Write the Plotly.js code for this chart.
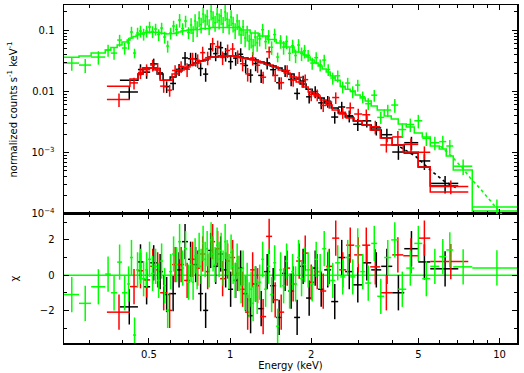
<!DOCTYPE html>
<html><head><meta charset="utf-8">
<script src="https://cdn.plot.ly/plotly-3.0.1.min.js"></script>
<style>html,body{margin:0;padding:0;background:#fff}#chart{width:524px;height:373px}</style>
</head><body><div id="chart"></div>
<script>
// ---------- data (energies in keV, counts in counts s^-1 keV^-1) ----------
const greenEdges = [0.242,0.275,0.305,0.344,0.361,0.381,0.397,0.415,0.425,0.436,0.448,0.459,0.471,0.484,0.496,0.509,0.522,0.536,0.550,0.564,0.579,0.594,0.609,0.625,0.641,0.658,0.675,0.692,0.710,
0.723,0.735,0.748,0.761,0.774,0.787,0.801,0.815,0.829,0.843,0.857,0.872,0.887,0.903,0.918,0.934,0.950,0.967,0.983,1.000,1.017,1.035,1.053,1.071,1.089,1.108,1.127,1.147,1.167,1.187,1.207,1.228,1.249,1.271,
1.304,1.337,1.372,1.408,1.444,1.482,1.520,1.559,1.600,1.641,1.684,1.728,1.772,1.818,1.865,1.914,
1.982,2.051,2.122,2.196,2.273,2.352,2.454,2.562,2.673,2.790,2.912,3.039,3.172,3.339,3.515,3.731,3.962,4.206,4.504,4.824,5.165,5.530,5.971,6.340,6.731,7.918,11.63];
const greenY = [0.0291,0.0270,0.0365,0.0475,0.0424,0.0693,0.0513,0.0619,0.0937,0.0424,0.0903,0.0973,0.0869,0.0973,0.1132,0.0955,0.1049,0.0853,0.1090,0.0776,0.0553,0.0903,0.1175,0.1030,0.1473,0.1070,0.1419,0.0920,
0.1220,0.0903,0.1419,0.1090,0.1589,0.1243,0.1847,0.1419,0.1681,0.1175,0.2030,0.1589,0.1331,0.1847,0.1457,0.1726,0.1277,0.2006,0.1530,0.1202,0.1650,0.1291,0.1011,0.1419,0.1145,0.0844,0.1141,0.0747,0.0924,0.0663,0.0710,0.0557,0.0776,0.0628,
0.0725,0.1022,0.0653,0.0806,0.0528,0.0851,0.0365,0.0667,0.0532,0.0658,0.0420,0.0561,0.0387,0.0574,0.0418,0.0462,
0.0391,0.0291,0.0357,0.0272,0.0326,0.0228,0.0166,0.0180,0.0119,0.0137,0.00993,0.0127,0.00817,0.00630,0.00868,0.00376,0.00496,0.00599,0.00238,0.00288,0.00331,0.00171,0.00145,0.00151,0.00128,0.000598,0.000129];
const greenErr = [0.0073,0.0070,0.0091,0.0105,0.0093,0.0152,0.0113,0.0136,0.0206,0.0076,0.0199,0.0214,0.0191,0.0214,0.0249,0.0210,0.0231,0.0188,0.0240,0.0171,0.0122,0.0199,0.0259,0.0227,0.0368,0.0235,0.0312,0.0202,
0.0354,0.0262,0.0412,0.0316,0.0461,0.0360,0.0536,0.0412,0.0487,0.0341,0.0589,0.0461,0.0386,0.0536,0.0423,0.0501,0.0370,0.0582,0.0444,0.0349,0.0479,0.0374,0.0293,0.0412,0.0332,0.0245,0.0331,0.0217,0.0268,0.0192,0.0206,0.0162,0.0225,0.0182,
0.0181,0.0256,0.0163,0.0202,0.0132,0.0213,0.0066,0.0167,0.0133,0.0165,0.0105,0.0140,0.0097,0.0144,0.0105,0.0116,
0.0086,0.0064,0.0079,0.0060,0.0072,0.0050,0.0037,0.0040,0.0026,0.0030,0.0022,0.0028,0.0018,0.0014,0.0019,0.00083,0.0011,0.0015,0.0006,0.00072,0.00083,0.00043,0.00036,0.00038,0.00032,0.00017,0.000041];
const greenModel = [0.0361,0.0379,0.0424,0.0475,0.0522,0.0574,0.0643,0.0693,0.0747,0.0791,0.0837,0.0869,0.0903,0.0920,0.0937,0.0937,0.0937,0.0920,0.0903,0.0886,0.0869,0.0869,0.0886,0.0903,0.0937,0.0973,0.0992,0.1011,
0.1030,0.1030,0.1030,0.1030,0.1030,0.1070,0.1070,0.1070,0.1070,0.1070,0.1111,0.1111,0.1111,0.1111,0.1111,0.1132,0.1132,0.1132,0.1132,0.1132,0.1111,0.1111,0.1111,0.1111,0.1111,0.1011,0.1011,0.1011,0.1011,0.1011,0.0903,0.0903,0.0903,0.0903,
0.0806,0.0806,0.0806,0.0707,0.0707,0.0707,0.0619,0.0619,0.0619,0.0532,0.0532,0.0532,0.0441,0.0441,0.0441,0.0394,
0.0365,0.0326,0.0291,0.0260,0.0232,0.0207,0.0178,0.0153,0.0122,0.0109,0.0102,0.00874,0.00781,0.00697,0.00577,0.00496,0.00396,0.00354,0.00293,0.00262,0.00209,0.00180,0.00128,0.00114,0.000879,0.000519,0.000111];
const greenChi = [-1.1,-1.6,-0.66,0.06,-1.0,0.74,-1.0,-0.5,1.0,-3.4,0.3,0.5,-0.2,0.3,0.9,0.1,0.5,-0.3,0.8,-0.6,-2.0,0.2,1.2,0.6,1.9,0.4,1.5,-0.4,
0.6,-0.4,1.1,0.2,1.4,0.5,1.8,0.9,1.5,0.3,2.0,1.2,0.6,1.7,0.9,1.4,0.4,1.9,1.0,0.2,1.3,0.5,-0.3,0.8,0.1,-0.6,0.4,-1.0,-0.3,-1.4,-0.8,-1.6,-0.5,-1.2,
-0.4,0.9,-0.8,0.5,-1.1,0.7,-2.9,0.3,-0.6,0.8,-0.9,0.2,-0.5,1.0,-0.2,0.6,
0.3,-0.5,0.9,0.2,1.5,0.4,-0.3,0.7,-0.1,1.0,-0.1,1.66,0.2,-0.45,1.8,-1.2,1.0,2.0,-0.8,0.4,1.8,-0.2,0.5,1.05,1.43,0.47,0.41];

const blackEdges = [0.390,0.455,0.475,0.505,0.536,0.564,0.599,0.630,0.663,0.698,0.729,0.761,0.794,0.829,0.865,0.903,0.942,0.983,1.026,1.071,1.118,1.166,1.217,1.271,1.337,1.408,1.482,1.559,1.641,1.728,1.818,1.914,2.016,2.122,2.234,2.372,2.518,2.673,2.863,3.092,3.339,3.637,3.996,4.428,4.990,5.530,7.025];
const blackY = [0.00979,0.0228,0.0207,0.0282,0.0201,0.0120,0.0135,0.0230,0.0352,0.0343,0.0342,0.0237,0.0192,0.0494,0.0416,0.0520,0.0410,0.0307,0.0351,0.0406,0.0266,0.0185,0.0286,0.0183,0.0293,0.0227,0.0139,0.0220,0.0157,0.00928,0.0148,0.00817,0.00993,0.00651,0.00692,0.00381,0.00556,0.00399,0.00290,0.00330,0.00253,0.00196,0.00102,0.00145,0.000729,0.000313];
const blackErr = [0.00245,0.0050,0.0046,0.0062,0.0044,0.0026,0.0030,0.0051,0.0088,0.0086,0.0086,0.0059,0.0048,0.0124,0.0104,0.0130,0.0103,0.0077,0.0088,0.0102,0.0067,0.0046,0.0072,0.0046,0.0064,0.0050,0.0031,0.0048,0.0035,0.0020,0.0033,0.0018,0.0022,0.0014,0.0015,0.00084,0.0012,0.00088,0.00064,0.00073,0.00063,0.00049,0.00026,0.00036,0.00021,0.0001];
const blackModel = [0.0153,0.0192,0.0241,0.0241,0.0192,0.0153,0.0172,0.0215,0.0241,0.0270,0.0291,0.0314,0.0326,0.0365,0.0365,0.0379,0.0379,0.0379,0.0379,0.0365,0.0352,0.0339,0.0326,0.0302,0.0280,0.0260,0.0241,0.0215,0.0192,0.0159,0.0132,0.0109,0.00908,0.00781,0.00646,0.00535,0.00443,0.00381,0.00328,0.00282,0.00234,0.00173,0.00133,0.000985,0.000582,0.000284];
const blackChi = [-1.8,0.75,-0.66,0.7,0.2,-1.1,-1.05,0.3,1.9,0.9,0.6,-1.05,-2.0,1.4,0.5,1.2,0.3,-0.8,-0.3,0.4,-1.05,-2.3,-0.5,-1.9,0.2,-0.6,-2.4,0.1,-0.9,-2.4,0.5,-1.3,0.4,-0.8,0.3,-1.5,1.0,0.2,-0.55,0.7,0.3,0.5,-1.0,1.5,0.75,0.36];

const redEdges = [0.349,0.425,0.455,0.475,0.505,0.527,0.550,0.584,0.609,0.641,0.675,0.710,0.742,0.774,0.808,0.843,0.880,0.918,0.958,1.000,1.044,1.089,1.137,1.187,1.238,1.292,1.360,1.432,1.508,1.587,1.670,1.758,1.851,1.949,2.051,2.159,2.273,2.392,2.540,2.696,2.887,3.092,3.311,3.606,3.996,4.390,4.990,5.530,7.652];
const redY = [0.00738,0.0138,0.0204,0.0227,0.0270,0.0239,0.0122,0.0105,0.0220,0.0256,0.0231,0.0343,0.0323,0.0431,0.0357,0.0602,0.0542,0.0360,0.0468,0.0494,0.0375,0.0284,0.0194,0.0353,0.0268,0.0171,0.0445,0.0183,0.0139,0.0219,0.0153,0.0170,0.0156,0.00894,0.00881,0.00590,0.00671,0.00794,0.00456,0.00539,0.00427,0.00415,0.00265,0.00133,0.00180,0.00136,0.00101,0.000278];
const redErr = [0.00184,0.0030,0.0045,0.0050,0.0059,0.0053,0.0027,0.0023,0.0048,0.0056,0.0058,0.0086,0.0081,0.0108,0.0089,0.0151,0.0136,0.0090,0.0117,0.0124,0.0094,0.0071,0.0049,0.0088,0.0067,0.0038,0.0098,0.0040,0.0031,0.0048,0.0034,0.0037,0.0034,0.0020,0.0019,0.0013,0.0015,0.0017,0.0010,0.0012,0.00094,0.00091,0.00066,0.00033,0.00045,0.00034,0.00025,0.00007];
const redModel = [0.0122,0.0159,0.0192,0.0241,0.0241,0.0224,0.0153,0.0153,0.0192,0.0224,0.0250,0.0270,0.0291,0.0314,0.0339,0.0365,0.0365,0.0379,0.0379,0.0379,0.0365,0.0352,0.0339,0.0326,0.0314,0.0291,0.0270,0.0250,0.0224,0.0200,0.0172,0.0142,0.0118,0.00979,0.00842,0.00724,0.00599,0.00496,0.00427,0.00367,0.00328,0.00282,0.00234,0.00173,0.00133,0.00102,0.000582,0.000227];
const redChi = [-2.1,-0.65,0.25,-0.27,0.5,0.3,-1.0,-2.0,0.6,0.6,-0.3,0.9,0.4,1.2,0.2,1.9,1.5,-0.2,0.8,1.0,0.1,-0.8,-2.1,0.3,-0.6,-2.35,2.2,-1.4,-2.1,0.4,-0.5,0.8,1.25,-0.4,0.2,-0.9,0.5,2.1,0.3,1.7,1.15,1.7,0.47,-1.0,1.15,1.1,2.1,0.77];

// smooth model curves beyond the binned steps (dotted)
const blackCurveE = [4.28,4.86,5.53,6.28,7.03];
const blackCurveY = [0.00123,0.000879,0.000519,0.000331,0.000254];
const greenCurveE = [6.03,6.68,7.27,7.79,8.49,9.24,10.07,10.6];
const greenCurveY = [0.00128,0.000846,0.000560,0.000384,0.000254,0.000162,0.000107,0.000079];

const xTickVals = [0.5,1,2,5,10];
const xTickText = ['0.5','1','2','5','10'];
const xMinorVals = [0.3,0.4,0.6,0.7,0.8,0.9,3,4,6,7,8,9];
const yTickVals = [0.1,0.01,0.001,0.0001];
const yTickText = ['0.1','0.01','10<sup>−3</sup>','10<sup>−4</sup>'];
const rTickVals = [-2,0,2];
const rTickText = ['−2','0','2'];
const rMinorVals = [-3,-1,1,3];

// ---------- build traces ----------
const GREEN = '#00ff00', RED = '#ff0000', BLACK = '#000000';
const LW = 1.5;
function centers(edges){ const c=[]; for(let i=0;i<edges.length-1;i++) c.push((edges[i]+edges[i+1])/2); return c; }
function plus(edges){ const c=centers(edges); return c.map((v,i)=>edges[i+1]-v); }
function minus(edges){ const c=centers(edges); return c.map((v,i)=>v-edges[i]); }
function cross(edges, y, ey, color, xa, ya, constErr){
  return {type:'scatter', mode:'markers', x:centers(edges), y:y, xaxis:xa, yaxis:ya,
    marker:{size:1, color:color}, hoverinfo:'skip',
    error_x:{type:'data', symmetric:false, array:plus(edges), arrayminus:minus(edges), width:0, thickness:LW, color:color},
    error_y: constErr ? {type:'constant', value:1, width:0, thickness:LW, color:color}
                      : {type:'data', array:ey, width:0, thickness:LW, color:color}};
}
function steps(edges, m, color){
  const xs=[], ys=[];
  for(let i=0;i<m.length;i++){ xs.push(edges[i], edges[i+1]); ys.push(m[i], m[i]); }
  return {type:'scatter', mode:'lines', x:xs, y:ys, xaxis:'x2', yaxis:'y', line:{color:color, width:LW}, hoverinfo:'skip'};
}
const traces = [];
const sets = [[blackEdges,blackY,blackErr,blackModel,blackChi,BLACK],[redEdges,redY,redErr,redModel,redChi,RED],[greenEdges,greenY,greenErr,greenModel,greenChi,GREEN]];
traces.push({type:'scatter', mode:'lines', x:[0.2418,11.6], y:[0,0], xaxis:'x', yaxis:'y2', line:{color:GREEN, width:LW}, hoverinfo:'skip'});
traces.push({type:'scatter', mode:'lines', x:blackCurveE, y:blackCurveY, xaxis:'x2', yaxis:'y', line:{color:BLACK, width:1.6, dash:'dot'}, hoverinfo:'skip'});
traces.push({type:'scatter', mode:'lines', x:greenCurveE, y:greenCurveY, xaxis:'x2', yaxis:'y', line:{color:GREEN, width:1.6, dash:'dot'}, hoverinfo:'skip'});
for(const s of sets){
  traces.push(cross(s[0], s[1], s[2], s[5], 'x2', 'y', false));
  traces.push(steps(s[0], s[3], s[5]));
  traces.push(cross(s[0], s[4], null, s[5], 'x', 'y2', true));
}

const FONT = {family:'DejaVu Sans, Liberation Sans, sans-serif', size:10, color:'#000'};
const axBase = {showgrid:false, zeroline:false, showline:true, linecolor:'#000', linewidth:1.5,
  ticks:'inside', ticklen:5, tickwidth:1, tickcolor:'#000', mirror:'ticks'};
const split = 0.3817;
const layout = {
  width:524, height:373, margin:{l:64, r:7, t:5, b:30}, showlegend:false,
  paper_bgcolor:'#fff', plot_bgcolor:'#fff', font:FONT,
  xaxis: Object.assign({}, axBase, {type:'log', range:[-0.6164,1.0646], anchor:'y2', domain:[0,1],
    tickmode:'array', tickvals:xTickVals, ticktext:xTickText, ticklabelstandoff:1,
    minor:{tickmode:'array', tickvals:xMinorVals, ticks:'inside', ticklen:3, tickcolor:'#000'},
    title:{text:'Energy (keV)', font:FONT, standoff:0}}),
  xaxis2: Object.assign({}, axBase, {type:'log', range:[-0.6164,1.0646], anchor:'y', domain:[0,1], matches:'x',
    tickmode:'array', tickvals:xTickVals, showticklabels:false,
    minor:{tickmode:'array', tickvals:xMinorVals, ticks:'inside', ticklen:3, tickcolor:'#000'}}),
  yaxis: Object.assign({}, axBase, {type:'log', range:[-4.005,-0.586], anchor:'x2', domain:[split,1],
    tickmode:'array', tickvals:yTickVals, ticktext:yTickText, ticklabelstandoff:6,
    minor:{tickmode:'array', tickvals:[2e-4,3e-4,4e-4,5e-4,6e-4,7e-4,8e-4,9e-4,2e-3,3e-3,4e-3,5e-3,6e-3,7e-3,8e-3,9e-3,0.02,0.03,0.04,0.05,0.06,0.07,0.08,0.09,0.2], ticks:'inside', ticklen:3, tickcolor:'#000'},
    title:{text:'normalized counts s<sup>-1</sup> keV<sup>-1</sup>', font:FONT, standoff:12}}),
  yaxis2: Object.assign({}, axBase, {range:[-3.85,3.47], anchor:'x', domain:[0,split],
    tickmode:'array', tickvals:rTickVals, ticktext:rTickText, ticklabelstandoff:6,
    minor:{tickmode:'array', tickvals:rMinorVals, ticks:'inside', ticklen:3, tickcolor:'#000'},
    title:{text:'χ', font:FONT, standoff:19}})
};
Plotly.newPlot('chart', traces, layout, {displayModeBar:false, staticPlot:true});
</script></body></html>
